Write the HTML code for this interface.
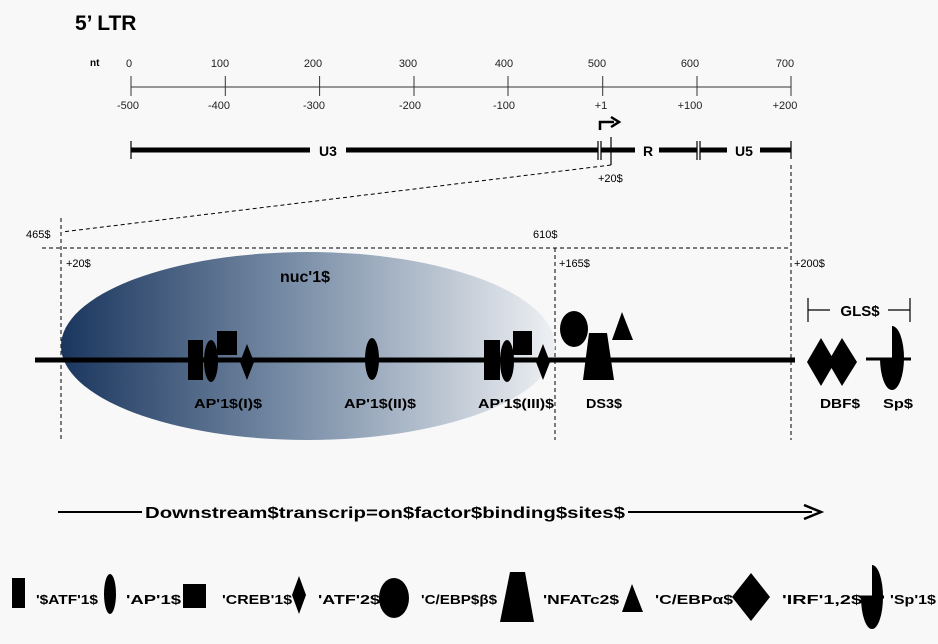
<!DOCTYPE html>
<html><head><meta charset="utf-8"><style>
html,body{margin:0;padding:0;background:#f8f8f8;}
svg{display:block;font-family:"Liberation Sans",sans-serif;}
</style></head><body>
<svg width="938" height="644" viewBox="0 0 938 644" xmlns="http://www.w3.org/2000/svg">
<defs>
<linearGradient id="g" x1="0" x2="1" y1="0" y2="0">
<stop offset="0" stop-color="#1b365e"/><stop offset="0.5" stop-color="#7f93ab"/><stop offset="1" stop-color="#eef0f3"/>
</linearGradient>
</defs>
<rect width="938" height="644" fill="#f8f8f8"/>
<text x="75" y="30" font-size="21" font-weight="bold">5’ LTR</text>
<!-- ruler -->
<text x="90" y="66" font-size="10" font-weight="bold">nt</text>
<line x1="131" y1="87" x2="791" y2="87" stroke="#333" stroke-width="1"/>
<g stroke="#333" stroke-width="1">
<line x1="131" y1="76" x2="131" y2="96"/><line x1="225.3" y1="76" x2="225.3" y2="96"/><line x1="319.6" y1="76" x2="319.6" y2="96"/><line x1="414" y1="76" x2="414" y2="96"/><line x1="508" y1="76" x2="508" y2="96"/><line x1="602.7" y1="76" x2="602.7" y2="96"/><line x1="697" y1="76" x2="697" y2="96"/><line x1="791" y1="76" x2="791" y2="96"/>
</g>
<g font-size="11" text-anchor="middle" fill="#222">
<text x="129" y="67">0</text><text x="220" y="67">100</text><text x="313" y="67">200</text><text x="408" y="67">300</text><text x="504" y="67">400</text><text x="597" y="67">500</text><text x="690" y="67">600</text><text x="785" y="67">700</text>
<text x="128" y="109">-500</text><text x="219" y="109">-400</text><text x="314" y="109">-300</text><text x="410" y="109">-200</text><text x="504" y="109">-100</text><text x="601" y="109">+1</text><text x="690" y="109">+100</text><text x="785" y="109">+200</text>
</g>
<!-- U3 R U5 bar -->
<g stroke="#000" stroke-width="5">
<line x1="131" y1="150" x2="310" y2="150"/><line x1="346" y1="150" x2="598" y2="150"/>
<line x1="601" y1="150" x2="635" y2="150"/><line x1="659" y1="150" x2="697" y2="150"/>
<line x1="700" y1="150" x2="727" y2="150"/><line x1="760" y1="150" x2="791" y2="150"/>
</g>
<g stroke="#000" stroke-width="1.2">
<line x1="131" y1="141" x2="131" y2="159"/><line x1="598" y1="141" x2="598" y2="160"/><line x1="601" y1="141" x2="601" y2="160"/>
<line x1="611" y1="137" x2="611" y2="165"/><line x1="697" y1="141" x2="697" y2="160"/><line x1="700" y1="141" x2="700" y2="160"/>
<line x1="791" y1="141" x2="791" y2="159"/>
</g>
<g font-size="14" font-weight="bold" text-anchor="middle">
<text x="328" y="156">U3</text><text x="648" y="156">R</text><text x="744" y="156">U5</text>
</g>
<path d="M600 130 V122 H614" fill="none" stroke="#000" stroke-width="2.5"/>
<path d="M611 117 L619 122 L611 127" fill="none" stroke="#000" stroke-width="2.5"/>
<text x="598" y="182" font-size="11">+20$</text>
<!-- dashed -->
<g stroke="#000" stroke-width="1" stroke-dasharray="4,3" fill="none">
<path d="M611 165 L62 232"/>
<line x1="61" y1="218" x2="61" y2="440"/>
<line x1="42" y1="248" x2="791" y2="248"/>
<line x1="555" y1="248" x2="555" y2="440"/>
<line x1="791" y1="165" x2="791" y2="440"/>
</g>
<g font-size="11">
<text x="26" y="238">465$</text><text x="533" y="238">610$</text>
<text x="66" y="267">+20$</text><text x="559" y="267">+165$</text><text x="794" y="267">+200$</text>
</g>
<!-- nucleosome -->
<ellipse cx="308" cy="346" rx="247" ry="94" fill="url(#g)"/>
<text x="305" y="282" font-size="16" font-weight="bold" text-anchor="middle">nuc'1$</text>
<!-- main line -->
<line x1="35" y1="360" x2="795" y2="360" stroke="#000" stroke-width="5"/>
<line x1="866" y1="359" x2="911" y2="359" stroke="#000" stroke-width="3"/>
<g fill="#000">
<rect x="188" y="340" width="15" height="40"/>
<ellipse cx="211" cy="361" rx="7" ry="21"/>
<rect x="217" y="331" width="20" height="24"/>
<path d="M247 344 L254 362 L247 380 L240 362Z"/>
<ellipse cx="372" cy="359" rx="7" ry="21"/>
<rect x="484" y="340" width="16" height="40"/>
<ellipse cx="507" cy="361" rx="7" ry="21"/>
<rect x="513" y="331" width="19" height="24"/>
<path d="M543 344 L550 362 L543 380 L536 362Z"/>
<ellipse cx="574" cy="329" rx="14" ry="18"/>
<path d="M589 333 L607 333 L614 380 L583 380Z"/>
<path d="M622 312 L633 340 L612 340Z"/>
<path d="M821 338 L835 362 L821 386 L807 362Z"/>
<path d="M842 338 L857 362 L842 386 L828 362Z"/>
<path d="M892 326 A12 32 0 0 1 892 390 A12 32 0 0 1 880 358 L892 358 Z"/>
</g>
<g stroke="#000" stroke-width="1.2"><line x1="808" y1="310" x2="830" y2="310"/><line x1="888" y1="310" x2="910" y2="310"/><line x1="808" y1="298" x2="808" y2="322"/><line x1="910" y1="298" x2="910" y2="322"/></g>
<text x="860" y="316" font-size="15" font-weight="bold" text-anchor="middle">GLS$</text>
<g font-size="13" font-weight="bold" text-anchor="middle">
<text x="228" y="408" textLength="68" lengthAdjust="spacingAndGlyphs">AP'1$(I)$</text>
<text x="380" y="408" textLength="72" lengthAdjust="spacingAndGlyphs">AP'1$(II)$</text>
<text x="516" y="408" textLength="76" lengthAdjust="spacingAndGlyphs">AP'1$(III)$</text>
<text x="604" y="408" textLength="36" lengthAdjust="spacingAndGlyphs">DS3$</text>
<text x="840" y="408" textLength="40" lengthAdjust="spacingAndGlyphs">DBF$</text>
<text x="898" y="408" textLength="30" lengthAdjust="spacingAndGlyphs">Sp$</text>
</g>
<!-- downstream arrow -->
<line x1="58" y1="512" x2="812" y2="512" stroke="#000" stroke-width="2"/>
<path d="M804 505 L821 512 L804 519" fill="none" stroke="#000" stroke-width="2.5"/>
<rect x="142" y="500" width="486" height="24" fill="#f8f8f8"/>
<text x="385" y="518" font-size="16" font-weight="bold" text-anchor="middle" textLength="480" lengthAdjust="spacingAndGlyphs">Downstream$transcrip=on$factor$binding$sites$</text>
<!-- legend -->
<g fill="#000">
<rect x="12" y="578" width="13" height="30"/>
<ellipse cx="110" cy="594" rx="6" ry="20"/>
<rect x="183" y="584" width="23" height="24"/>
<path d="M299 576 L306 595 L299 614 L292 595Z"/>
<ellipse cx="394" cy="598" rx="15" ry="20"/>
<path d="M510 572 L525 572 L534 622 L500 622Z"/>
<path d="M632 584 L643 612 L622 612Z"/>
<path d="M751 573 L770 597 L751 621 L732 597Z"/>
<path d="M872 565 A11 32 0 0 1 872 629 A11 32 0 0 1 861 597 L872 597 Z"/>
</g>
<line x1="860" y1="597" x2="884" y2="597" stroke="#000" stroke-width="3"/>
<g font-size="13" font-weight="bold">
<text x="36" y="604" textLength="62" lengthAdjust="spacingAndGlyphs">'$ATF'1$</text>
<text x="126" y="604" textLength="55" lengthAdjust="spacingAndGlyphs">'AP'1$</text>
<text x="222" y="604" textLength="70" lengthAdjust="spacingAndGlyphs">'CREB'1$</text>
<text x="318" y="604" textLength="62" lengthAdjust="spacingAndGlyphs">'ATF'2$</text>
<text x="421" y="604" textLength="76" lengthAdjust="spacingAndGlyphs">'C/EBP$β$</text>
<text x="543" y="604" textLength="76" lengthAdjust="spacingAndGlyphs">'NFATc2$</text>
<text x="655" y="604" textLength="78" lengthAdjust="spacingAndGlyphs">'C/EBPα$</text>
<text x="782" y="604" textLength="80" lengthAdjust="spacingAndGlyphs">'IRF'1,2$</text>
<text x="890" y="604" textLength="46" lengthAdjust="spacingAndGlyphs">'Sp'1$</text>
</g>
</svg>
</body></html>
